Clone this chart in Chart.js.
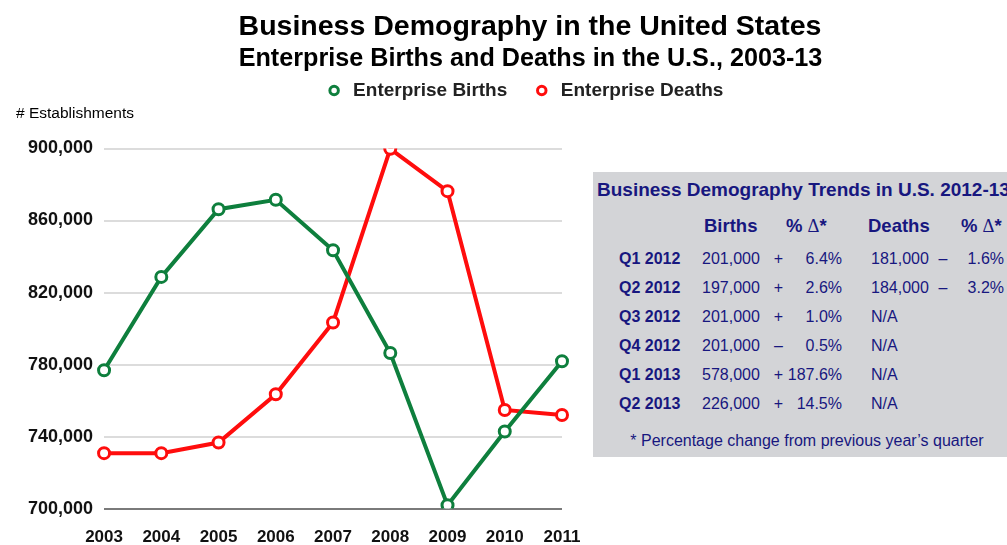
<!DOCTYPE html>
<html><head><meta charset="utf-8">
<script src="https://cdn.jsdelivr.net/npm/chart.js@4.4.0/dist/chart.umd.min.js"></script>
<style>
html,body{margin:0;padding:0;background:#fff;overflow:hidden;width:1007px;height:545px;font-family:"Liberation Sans",Arial,sans-serif}
#wrap{position:relative;width:1007px;height:545px;overflow:hidden}
canvas{position:absolute;left:0;top:0}
.t{position:absolute;white-space:nowrap;line-height:1}
.d{font-family:"Liberation Serif","Times New Roman",serif;font-weight:normal}
#box{position:absolute;left:593px;top:172px;width:420px;height:285px;background:#d3d4d7}
</style></head><body>
<div id="wrap">
<canvas id="c" width="1007" height="558" style="width:1007px;height:558px"></canvas>
<div id="box"></div>
</div>
<script>
// ---- data ----
const years = ['2003','2004','2005','2006','2007','2008','2009','2010','2011'];
const births = [776800, 828700, 866300, 871500, 843500, 786400, 701900, 742800, 781800];
const deaths = [730800, 730800, 736700, 763500, 803400, 899800, 876300, 754800, 752000];
const yTicks = [700000, 740000, 780000, 820000, 860000, 900000];
const seriesNames = ['Enterprise Births', 'Enterprise Deaths'];

const chartTitle = 'Business Demography in the United States';
const chartSubtitle = 'Enterprise Births and Deaths in the U.S., 2003-13';
const yAxisTitle = '# Establishments';

const tableTitle = 'Business Demography Trends in U.S. 2012-13';
const tableHeaders = ['Births', '% \u0394*', 'Deaths', '% \u0394*'];
const quarters = ['Q1 2012','Q2 2012','Q3 2012','Q4 2012','Q1 2013','Q2 2013'];
const qBirths = ['201,000','197,000','201,000','201,000','578,000','226,000'];
const qBirthSign = ['+','+','+','\u2013','+','+'];
const qBirthPct = ['6.4%','2.6%','1.0%','0.5%','187.6%','14.5%'];
const qDeaths = ['181,000','184,000','N/A','N/A','N/A','N/A'];
const qDeathSign = ['\u2013','\u2013','','','',''];
const qDeathPct = ['1.6%','3.2%','','','',''];
const tableNote = '* Percentage change from previous year\u2019s quarter';

// ---- styles ----
const FONT = '"Liberation Sans", Arial, sans-serif';
const GREEN = '#0e7f3d';
const RED = '#ff0d0d';
const NAVY = '#17177f';

const wrap = document.getElementById('wrap');
function place(text, x, y, size, weight, color, align) {
  const d = document.createElement('div');
  d.className = 't';
  if (text.indexOf('\u0394') >= 0) {
    const parts = text.split('\u0394');
    d.appendChild(document.createTextNode(parts[0]));
    const s = document.createElement('span'); s.className = 'd'; s.textContent = '\u0394';
    d.appendChild(s);
    d.appendChild(document.createTextNode(parts[1]));
  } else {
    d.textContent = text;
  }
  d.style.fontSize = size + 'px';
  d.style.fontWeight = weight;
  d.style.color = color;
  d.style.top = (y - size / 2) + 'px';
  if (align === 'center') { d.style.left = x + 'px'; d.style.transform = 'translateX(-50%)'; }
  else if (align === 'right') { d.style.right = (1007 - x) + 'px'; }
  else { d.style.left = x + 'px'; }
  wrap.appendChild(d);
  return d;
}

place(chartTitle, 530, 25.5, 28.5, 'bold', '#000', 'center');
place(chartSubtitle, 530.5, 57.5, 25.2, 'bold', '#000', 'center');
place(yAxisTitle, 16, 113, 15.5, 'normal', '#000', 'left');

// table
place(tableTitle, 597, 189, 19, 'bold', NAVY, 'left');
place(tableHeaders[0], 704, 226, 18.5, 'bold', NAVY, 'left');
place(tableHeaders[1], 786, 226, 18.5, 'bold', NAVY, 'left');
place(tableHeaders[2], 868, 226, 18.5, 'bold', NAVY, 'left');
place(tableHeaders[3], 961, 226, 18.5, 'bold', NAVY, 'left');
const rowY = [259, 288, 317, 346, 375, 404];
quarters.forEach((q, i) => {
  const y = rowY[i];
  place(q, 619, y, 16, 'bold', NAVY, 'left');
  place(qBirths[i], 702, y, 16, 'normal', NAVY, 'left');
  place(qBirthSign[i], 778.5, y, 16, 'normal', NAVY, 'center');
  place(qBirthPct[i], 842, y, 16, 'normal', NAVY, 'right');
  place(qDeaths[i], 871, y, 16, 'normal', NAVY, 'left');
  if (qDeathSign[i]) place(qDeathSign[i], 943, y, 16, 'normal', NAVY, 'center');
  if (qDeathPct[i]) place(qDeathPct[i], 1004, y, 16, 'normal', NAVY, 'right');
});
place(tableNote, 807, 441, 16, 'normal', NAVY, 'center');

// legend placement plugin
const legendMover = {
  id: 'legendMover',
  beforeDraw(chart) {
    const lg = chart.legend;
    if (!lg) return;
    const h = lg.height;
    lg.left = 38; lg.right = 1010;
    lg.top = 56; lg.bottom = 56 + h;
  }
};

const ctx = document.getElementById('c').getContext('2d');
new Chart(ctx, {
  type: 'line',
  data: {
    labels: years,
    datasets: [
      { label: seriesNames[0], data: births, borderColor: GREEN, backgroundColor: '#fff',
        pointBackgroundColor: '#fff', pointBorderColor: GREEN, pointBorderWidth: 3,
        pointRadius: 5.5, borderWidth: 4, tension: 0 },
      { label: seriesNames[1], data: deaths, borderColor: RED, backgroundColor: '#fff',
        pointBackgroundColor: '#fff', pointBorderColor: RED, pointBorderWidth: 3,
        pointRadius: 5.5, borderWidth: 4, tension: 0 }
    ]
  },
  options: {
    responsive: false,
    animation: false,
    devicePixelRatio: 1,
    layout: { padding: { left: 17, right: 445, top: 94.5, bottom: 0 } },
    plugins: {
      legend: {
        position: 'top',
        labels: { usePointStyle: true, pointStyle: 'circle', boxWidth: 19, boxHeight: 6,
          font: { family: FONT, size: 19, weight: 'bold' }, color: '#222', padding: 25 }
      },
      title: { display: false },
      tooltip: { enabled: false }
    },
    scales: {
      x: {
        offset: false,
        grid: { display: false },
        border: { display: false },
        ticks: { font: { family: FONT, size: 17, weight: 'bold' }, color: '#111', padding: 10.5, maxRotation: 0 }
      },
      y: {
        min: 700000, max: 900000,
        afterBuildTicks: axis => { axis.ticks = yTicks.map(v => ({ value: v })); },
        grid: { color: c => (c.tick && c.tick.value === 700000) ? '#7a7a7a' : '#dcdcdc', lineWidth: 2, drawTicks: false },
        border: { display: false },
        ticks: { font: { family: FONT, size: 18, weight: 'bold' }, color: '#111', padding: 11,
          callback: v => v.toLocaleString('en-US') }
      }
    }
  },
  plugins: [legendMover]
});
</script>
</body></html>
